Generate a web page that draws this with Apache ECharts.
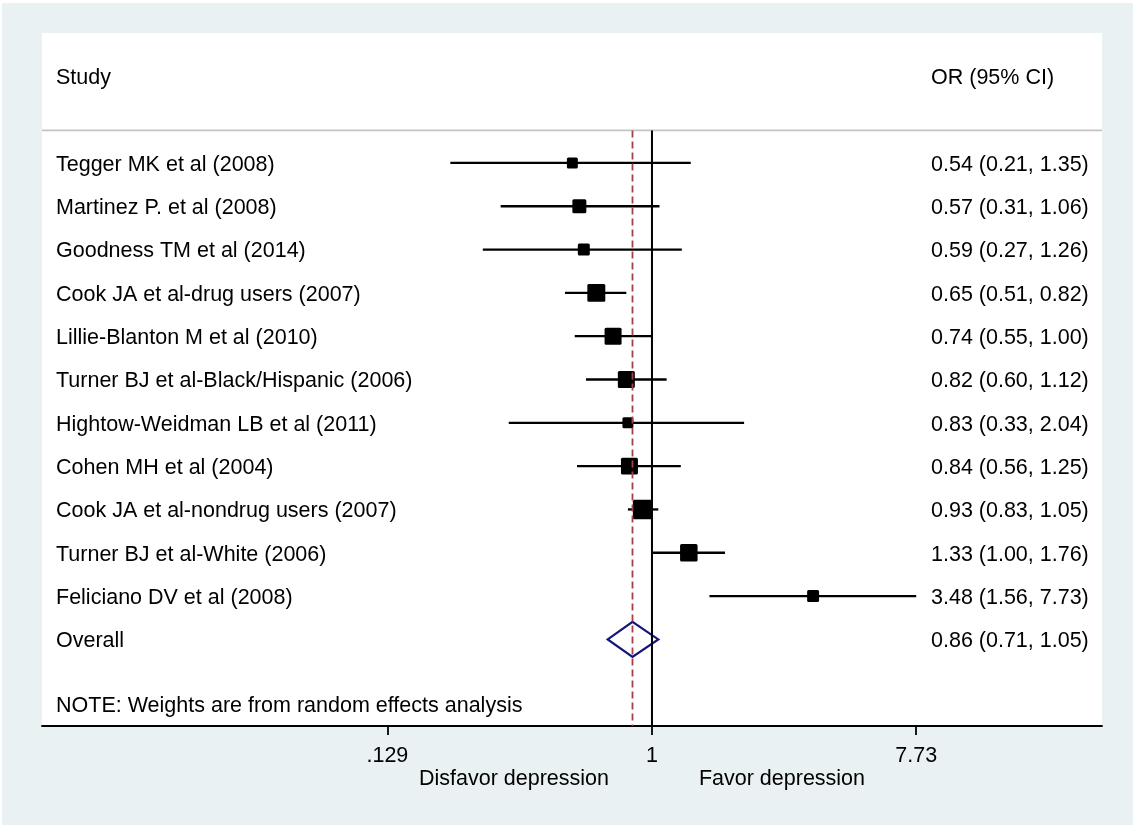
<!DOCTYPE html>
<html>
<head>
<meta charset="utf-8">
<script src="https://cdn.jsdelivr.net/npm/echarts@6/dist/echarts.min.js"></script>
<style>
  html, body { margin: 0; padding: 0; background: #ffffff; }
  #chart { position: absolute; left: 2px; top: 3px; width: 1131px; height: 822px; background: #eaf1f3; }
</style>
</head>
<body>
<div id="chart"></div>
<script>
// Study-level odds ratios with 95% confidence intervals
const studyNames = [
  'Tegger MK et al (2008)',
  'Martinez P. et al (2008)',
  'Goodness TM et al (2014)',
  'Cook JA et al-drug users (2007)',
  'Lillie-Blanton M et al (2010)',
  'Turner BJ et al-Black/Hispanic (2006)',
  'Hightow-Weidman LB et al (2011)',
  'Cohen MH et al (2004)',
  'Cook JA et al-nondrug users (2007)',
  'Turner BJ et al-White (2006)',
  'Feliciano DV et al (2008)'
];
const orValues = [0.54, 0.57, 0.59, 0.65, 0.74, 0.82, 0.83, 0.84, 0.93, 1.33, 3.48];
const ciLower  = [0.21, 0.31, 0.27, 0.51, 0.55, 0.60, 0.33, 0.56, 0.83, 1.00, 1.56];
const ciUpper  = [1.35, 1.06, 1.26, 0.82, 1.00, 1.12, 2.04, 1.25, 1.05, 1.76, 7.73];
// random-effects weights (%), box area proportional to weight
const weights  = [4.6, 7.5, 5.5, 12.4, 11.1, 11.1, 4.6, 11.1, 14.6, 11.8, 5.5];

// pooled estimate
const overallLabel = 'Overall';
const overallOR = 0.86;
const overallLower = 0.71;
const overallUpper = 1.05;

// axis ticks on the odds-ratio scale
const tickValues = [0.129, 1, 7.73];
const tickLabels = ['.129', '1', '7.73'];

const headerStudy = 'Study';
const headerEffect = 'OR (95% CI)';
const footNote = 'NOTE: Weights are from random effects analysis';
const leftSideLabel = 'Disfavor depression';
const rightSideLabel = 'Favor depression';

const FONT = '"Liberation Sans", Arial, sans-serif';
const FS = 21.5;
const TEXT_DY = 2;
const fmt = v => v.toFixed(2);
const ln = Math.log;

const lnTicks = tickValues.map(ln);
const tickText = v => {
  let best = 0;
  lnTicks.forEach((t, k) => { if (Math.abs(t - v) < Math.abs(lnTicks[best] - v)) best = k; });
  return tickLabels[best];
};

const studyData = studyNames.map((n, i) => [ln(orValues[i]), i, ln(ciLower[i]), ln(ciUpper[i]), weights[i]]);
const overallRow = studyNames.length;
const noteRow = overallRow + 1.5;
const headerRow = -2;
const ruleRow = -0.75;

const chart = echarts.init(document.getElementById('chart'), null, { renderer: 'canvas' });

const txt = (t, x, y) => ({ type: 'text', x, y: y + TEXT_DY,
  style: { text: t, fill: '#000', font: FS + 'px ' + FONT, verticalAlign: 'middle', align: 'left' } });

const option = {
  animation: false,
  grid: {
    left: 40, right: 31, top: 30, bottom: 99,
    show: true, backgroundColor: '#ffffff', borderWidth: 0
  },
  xAxis: {
    type: 'value',
    min: -4.721, max: 3.483,
    splitLine: { show: false },
    axisLine: { show: true, onZero: false, lineStyle: { color: '#000', width: 1.8 } },
    axisTick: { show: true, length: 9, customValues: lnTicks, lineStyle: { color: '#000', width: 1.8 } },
    axisLabel: {
      show: true, customValues: lnTicks, formatter: v => tickText(v),
      color: '#000', fontSize: FS, fontFamily: FONT, margin: 19
    }
  },
  yAxis: {
    type: 'value', inverse: true, min: -3, max: 13, show: false
  },
  series: [
    {
      // confidence intervals, weighted boxes and text columns
      type: 'custom',
      z: 2,
      data: studyData,
      encode: { x: [0, 2, 3], y: 1 },
      renderItem: (params, api) => {
        const i = api.value(1);
        const c = api.coord([api.value(0), i]);
        const lo = api.coord([api.value(2), i]);
        const hi = api.coord([api.value(3), i]);
        const side = 5.1 * Math.sqrt(api.value(4));
        const cs = params.coordSys;
        const idx = params.dataIndex;
        return {
          type: 'group',
          children: [
            { type: 'line', shape: { x1: lo[0], y1: lo[1], x2: hi[0], y2: hi[1] },
              style: { stroke: '#000', lineWidth: 2.3 } },
            { type: 'rect', shape: { x: c[0] - side / 2, y: c[1] - side / 2, width: side, height: side, r: 1.5 },
              style: { fill: '#000' } },
            txt(studyNames[idx], cs.x + 14, c[1]),
            txt(fmt(orValues[idx]) + ' (' + fmt(ciLower[idx]) + ', ' + fmt(ciUpper[idx]) + ')',
                cs.x + cs.width - 171, c[1])
          ]
        };
      }
    },
    {
      // header, rule, reference lines, pooled diamond and footnote
      type: 'custom',
      z: 3,
      data: [[ln(overallOR), overallRow, ln(overallLower), ln(overallUpper)]],
      encode: { x: [0, 2, 3], y: 1 },
      renderItem: (params, api) => {
        const cs = params.coordSys;
        const row = api.value(1);
        const c = api.coord([api.value(0), row]);
        const lo = api.coord([api.value(2), row]);
        const hi = api.coord([api.value(3), row]);
        const ruleY = api.coord([0, ruleRow])[1];
        const headY = api.coord([0, headerRow])[1];
        const noteY = api.coord([0, noteRow])[1];
        const nullX = api.coord([0, 0])[0];
        const bottom = cs.y + cs.height;
        const dh = 17.5;
        return {
          type: 'group',
          children: [
            { type: 'line', shape: { x1: cs.x, y1: ruleY, x2: cs.x + cs.width, y2: ruleY },
              style: { stroke: '#c4c4c4', lineWidth: 1.8 } },
            txt(headerStudy, cs.x + 14, headY),
            txt(headerEffect, cs.x + cs.width - 171, headY),
            { type: 'polygon', shape: { points: [[lo[0], c[1]], [c[0], c[1] - dh], [hi[0], c[1]], [c[0], c[1] + dh]] },
              style: { fill: 'none', stroke: '#15157a', lineWidth: 2.2 } },
            { type: 'line', shape: { x1: nullX, y1: ruleY, x2: nullX, y2: bottom },
              style: { stroke: '#000', lineWidth: 2 } },
            { type: 'line', shape: { x1: c[0], y1: ruleY, x2: c[0], y2: bottom },
              style: { stroke: '#a4404c', lineWidth: 1.8, lineDash: [7, 4] } },
            txt(overallLabel, cs.x + 14, c[1]),
            txt(fmt(overallOR) + ' (' + fmt(overallLower) + ', ' + fmt(overallUpper) + ')', cs.x + cs.width - 171, c[1]),
            txt(footNote, cs.x + 14, noteY)
          ]
        };
      }
    }
  ]
};

chart.setOption(option);

// side captions under the axis, centred either side of the null line
const nullPx = chart.convertToPixel({ gridIndex: 0 }, [0, 0])[0];
chart.setOption({
  graphic: [
    { type: 'text', x: nullPx - 138, y: 776,
      style: { text: leftSideLabel, fill: '#000', font: FS + 'px ' + FONT, align: 'center', verticalAlign: 'middle' } },
    { type: 'text', x: nullPx + 130, y: 776,
      style: { text: rightSideLabel, fill: '#000', font: FS + 'px ' + FONT, align: 'center', verticalAlign: 'middle' } }
  ]
});
</script>
</body>
</html>
